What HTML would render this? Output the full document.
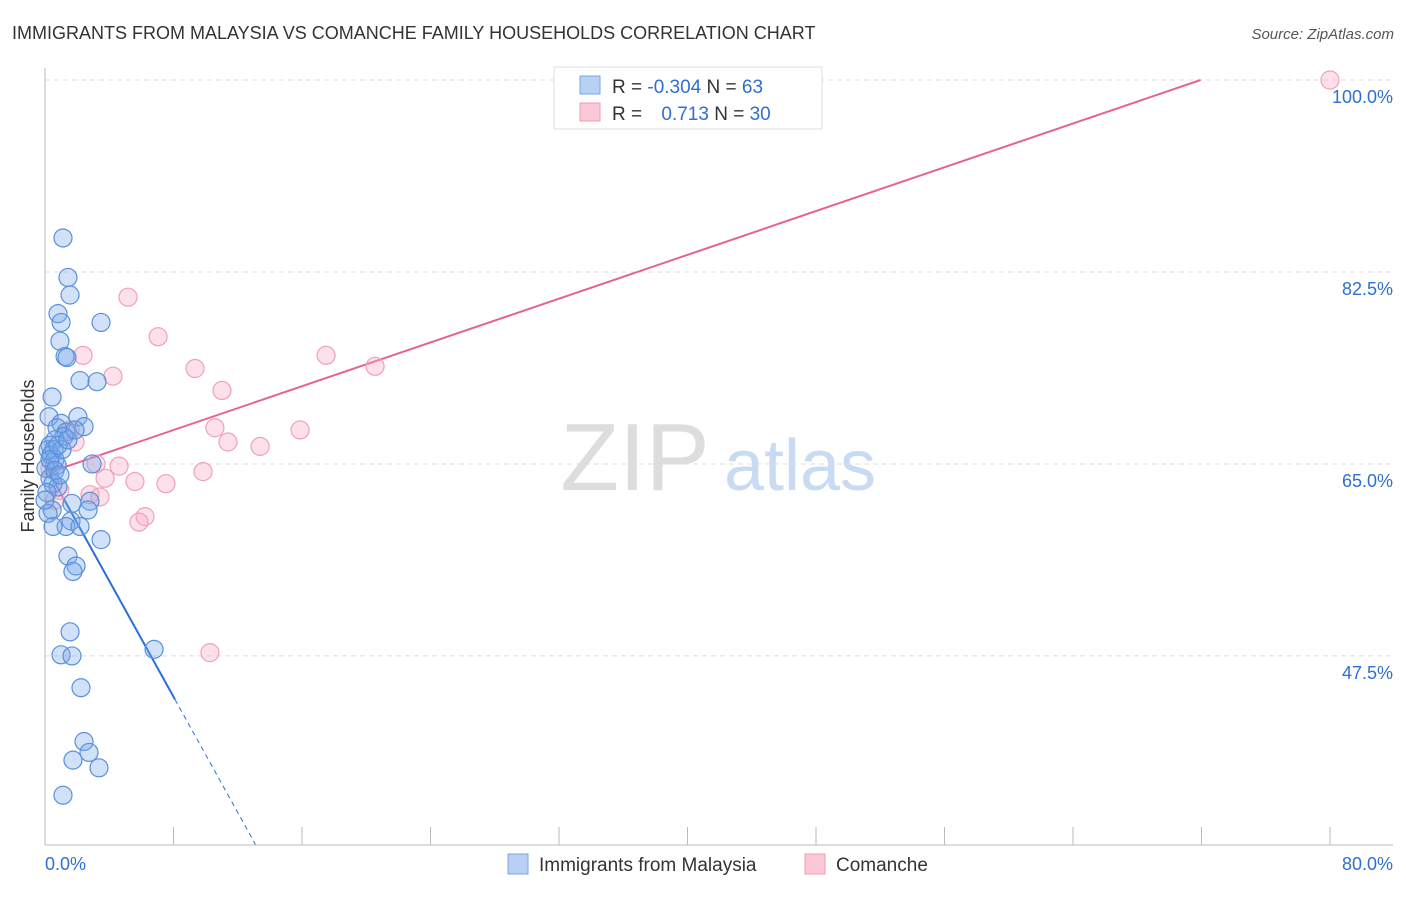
<!DOCTYPE html>
<html><head><meta charset="utf-8"><style>
body{margin:0;background:#fff;font-family:"Liberation Sans",sans-serif;}
svg text{font-family:"Liberation Sans",sans-serif;}
</style></head><body>
<svg id="chart" width="1406" height="892">
<text x="12" y="39" font-size="18" fill="#333">IMMIGRANTS FROM MALAYSIA VS COMANCHE FAMILY HOUSEHOLDS CORRELATION CHART</text>
<text x="1394" y="39" font-size="15" fill="#555" font-style="italic" text-anchor="end">Source: ZipAtlas.com</text>
<text x="34" y="456" font-size="18" fill="#333" text-anchor="middle" transform="rotate(-90 34 456)">Family Households</text>
<g><text x="635" y="490" font-size="96" font-family="Liberation Serif,serif" fill="#ddd" text-anchor="middle">ZIP</text><text x="800" y="490" font-size="72" fill="#c9dbf2" text-anchor="middle">atlas</text></g>
<g id="grid"></g><g id="axes"></g><g id="lines"></g><g id="pts"></g>
<g>
<rect x="554" y="67" width="268" height="62" fill="#fff" stroke="#ddd"/>
<rect x="580" y="76" width="20" height="18" fill="#b7d0f3" stroke="#7aa6e6"/>
<rect x="580" y="103" width="20" height="18" fill="#fbc8d6" stroke="#f09ab3"/>
<text x="612" y="93" font-size="19" fill="#333">R = <tspan fill="#2f6fd0">-0.304</tspan>   N = <tspan fill="#2f6fd0">63</tspan></text>
<text x="612" y="120" font-size="19" fill="#333">R = <tspan fill="#2f6fd0" dx="14">0.713</tspan>   N = <tspan fill="#2f6fd0">30</tspan></text>
</g>
<g>
<rect x="508" y="854" width="20" height="20" fill="#b7d0f3" stroke="#7aa6e6"/>
<text x="539" y="871" font-size="19" fill="#333">Immigrants from Malaysia</text>
<rect x="805" y="854" width="20" height="20" fill="#fbc8d6" stroke="#f09ab3"/>
<text x="836" y="871" font-size="19" fill="#333">Comanche</text>
</g>
</svg>
<script>
const blueX=[1.12,1.43,1.56,0.81,1.0,3.49,0.93,1.25,1.37,2.18,3.24,0.44,0.25,2.05,1.0,2.43,0.75,1.31,1.18,0.62,0.31,0.19,0.56,0.37,0.62,0.75,2.93,0.06,0.31,0.5,0.81,0.12,1.68,2.8,2.68,0.44,0.19,1.62,1.31,0.5,2.18,3.49,1.43,1.93,1.74,1.56,1.0,1.68,6.79,2.24,2.43,2.74,1.74,3.36,1.12,0.31,0.62,0.93,0,1.06,0.81,1.43,1.87];
const blueY=[85.6,82.0,80.4,78.7,77.9,77.9,76.2,74.8,74.7,72.6,72.5,71.1,69.3,69.3,68.7,68.4,68.3,67.9,67.5,67.2,66.7,66.3,66.3,65.8,65.4,64.9,65.0,64.6,63.7,63.2,62.9,62.4,61.4,61.6,60.8,60.8,60.5,59.8,59.3,59.3,59.3,58.1,56.6,55.7,55.2,49.7,47.6,47.5,48.1,44.6,39.7,38.7,38.0,37.3,34.8,65.4,64.4,64.0,61.7,66.3,66.7,67.2,68.1];
const pinkX=[33.06,80,5.17,7.04,2.37,4.23,9.34,11.02,17.5,20.55,10.58,11.39,13.39,15.88,1.87,1.56,3.18,4.61,9.84,3.74,5.6,7.53,2.8,3.42,6.23,5.85,10.27,0.93,0.62,0.31];
const pinkY=[100,100,80.2,76.6,74.9,73.0,73.7,71.7,74.9,73.9,68.3,67.0,66.6,68.1,67.0,68.1,65.0,64.8,64.3,63.7,63.4,63.2,62.2,62.0,60.2,59.7,47.8,62.6,61.7,64.6];
const yTicks=[100,82.5,65,47.5];
const yTickLabels=["100.0%","82.5%","65.0%","47.5%"];
const xTicks=[0,8,16,24,32,40,48,56,64,72,80];
const blueFit=[64.9,-2.64];
const pinkFit=[64.1,0.499];
const X=v=>45+v*(1285/80);
const Y=v=>80+(100-v)*10.97;
const ns="http://www.w3.org/2000/svg";
function mk(t,a,p){const e=document.createElementNS(ns,t);for(const k in a)e.setAttribute(k,a[k]);p.appendChild(e);return e;}
const grid=document.getElementById('grid'),axes=document.getElementById('axes'),lines=document.getElementById('lines'),pts=document.getElementById('pts');
yTicks.forEach((t,i)=>{
const g=mk('line',{x1:45,x2:1393,y1:Y(t),y2:Y(t),stroke:'#ddd','stroke-dasharray':'5,4'},grid);


const l=mk('text',{x:1393,y:Y(t)+23,'font-size':18,fill:'#2f6fd0','text-anchor':'end'},axes);
l.textContent=yTickLabels[i];


});
const ax=mk('line',{x1:45,x2:45,y1:68,y2:845,stroke:'#bbb'},axes);


const bx=mk('line',{x1:45,x2:1393,y1:845,y2:845,stroke:'#bbb'},axes);


xTicks.forEach(t=>{
const k=mk('line',{x1:X(t),x2:X(t),y1:827,y2:845,stroke:'#bbb'},axes);


});
const x0=mk('text',{x:45,y:870,'font-size':18,fill:'#2f6fd0'},axes);x0.textContent="0.0%";


const x1=mk('text',{x:1393,y:870,'font-size':18,fill:'#2f6fd0','text-anchor':'end'},axes);x1.textContent="80.0%";


function dot(x,y,f,s,n){const c=mk('circle',{cx:X(x),cy:Y(y),r:9,fill:f,stroke:s,'stroke-width':1.2},pts);

}
pinkX.forEach((x,i)=>dot(x,pinkY[i],'rgba(248,170,195,0.35)','#f0a0b8','comanche-point'));
blueX.forEach((x,i)=>dot(x,blueY[i],'rgba(120,170,235,0.35)','#5a90dc','malaysia-point'));
const bEnd=8.09,bDash=13.1;
const bl=mk('line',{x1:X(0),y1:Y(blueFit[0]),x2:X(bEnd),y2:Y(blueFit[0]+blueFit[1]*bEnd),stroke:'#2a6fd6','stroke-width':2},lines);


const bd=mk('line',{x1:X(bEnd),y1:Y(blueFit[0]+blueFit[1]*bEnd),x2:X(bDash),y2:Y(blueFit[0]+blueFit[1]*bDash),stroke:'#2a6fd6','stroke-width':1,'stroke-dasharray':'5,4'},lines);


const pEnd=(100-pinkFit[0])/pinkFit[1];
const pl=mk('line',{x1:X(0),y1:Y(pinkFit[0]),x2:X(pEnd),y2:Y(100),stroke:'#e5648f','stroke-width':2},lines);


</script>
</body></html>
